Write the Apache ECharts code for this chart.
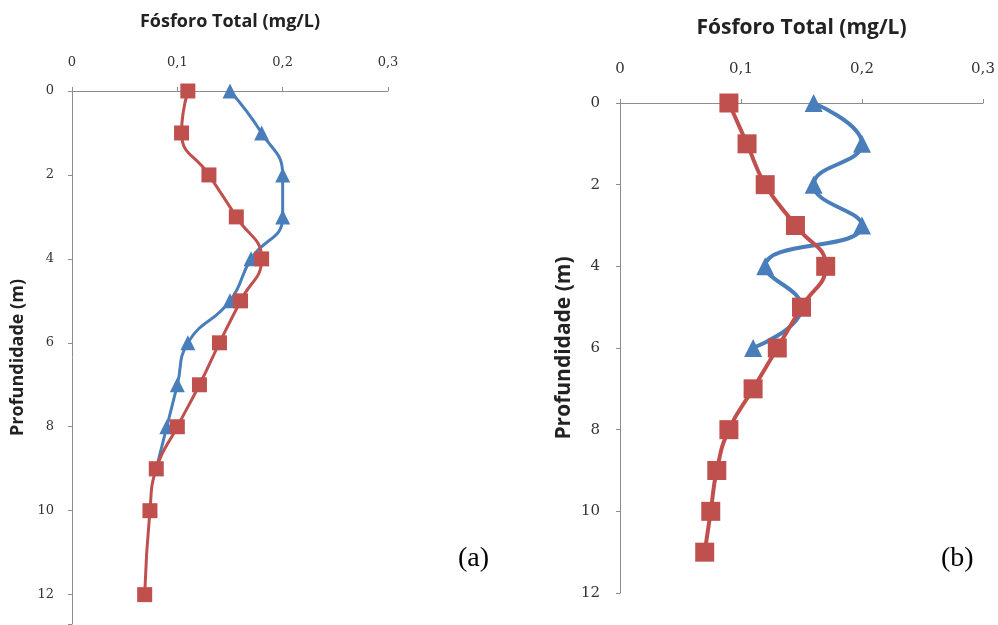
<!DOCTYPE html>
<html><head><meta charset="utf-8">
<script src="https://cdn.jsdelivr.net/npm/echarts@6/dist/echarts.min.js"></script>
<style>html,body{margin:0;padding:0;background:#fff}#c{width:998px;height:625px}</style>
</head><body><div id="c"></div>
<script>
// Panel (a)
var depthRedA = [0, 1, 2, 3, 4, 5, 6, 7, 8, 9, 10, 12];
var redA = [0.110, 0.104, 0.130, 0.156, 0.180, 0.160, 0.140, 0.121, 0.100, 0.080, 0.074, 0.069];
var depthBlueA = [0, 1, 2, 3, 4, 5, 6, 7, 8, 9];
var blueA = [0.150, 0.180, 0.200, 0.200, 0.170, 0.150, 0.110, 0.100, 0.090, 0.080];
// Panel (b)
var depthRedB = [0, 1, 2, 3, 4, 5, 6, 7, 8, 9, 10, 11];
var redB = [0.090, 0.105, 0.120, 0.145, 0.170, 0.150, 0.130, 0.110, 0.090, 0.080, 0.075, 0.070];
var depthBlueB = [0, 1, 2, 3, 4, 5, 6];
var blueB = [0.160, 0.200, 0.160, 0.200, 0.120, 0.150, 0.110];
var xTicks = ['0', '0,1', '0,2', '0,3'];
var xTitle = 'Fósforo Total (mg/L)';
var yTitle = 'Profundidade (m)';
var panelLabels = ['(a)', '(b)'];

function pairs(xs, ys) { return xs.map(function (v, i) { return [v, ys[i]]; }); }

var RED = '#c0504d', BLUE = '#4a7ebb', AX = '#8c8c8c';
function xAx(idx, nameGap, labelMargin, nameSize, labSize) {
  return {
    type: 'value', gridIndex: idx, position: 'top', min: 0, max: 0.3, interval: 0.1,
    name: xTitle, nameLocation: 'middle', nameGap: nameGap,
    nameTextStyle: { fontFamily: 'Open Sans', fontWeight: 'bold', fontSize: nameSize, color: '#222' },
    axisLine: { show: true, lineStyle: { color: AX, width: 1 } },
    axisTick: { show: true, length: 4, lineStyle: { color: AX } },
    splitLine: { show: false },
    axisLabel: { margin: labelMargin, fontFamily: 'DejaVu Serif', fontSize: labSize, color: '#333',
      formatter: function (v) { return xTicks[Math.round(v * 10)]; } }
  };
}
function yAx(idx, max, nameGap, labelMargin, nameSize, labSize) {
  return {
    type: 'value', gridIndex: idx, inverse: true, min: 0, max: max, interval: 2,
    name: yTitle, nameLocation: 'middle', nameGap: nameGap, nameRotate: 90,
    nameTextStyle: { fontFamily: 'Open Sans', fontWeight: 'bold', fontSize: nameSize, color: '#222' },
    axisLine: { show: true, onZero: false, lineStyle: { color: AX, width: 1 } },
    axisTick: { show: true, length: 4, lineStyle: { color: AX } },
    splitLine: { show: false },
    axisLabel: { margin: labelMargin, fontFamily: 'DejaVu Serif', fontSize: labSize, color: '#333',
      formatter: function (v) { return (Math.abs(v - Math.round(v)) < 1e-6 && Math.round(v) % 2 === 0) ? String(Math.round(v)) : ''; } }
  };
}
function ser(idx, data, color, symbol, size, w, z) {
  return {
    type: 'line', xAxisIndex: idx, yAxisIndex: idx, data: data, smooth: 0.5,
    symbol: symbol, symbolSize: size, showSymbol: true, z: z,
    lineStyle: { color: color, width: w }, itemStyle: { color: color, opacity: 1 },
    animation: false
  };
}
var chart = echarts.init(document.getElementById('c'));
chart.setOption({
  animation: false,
  grid: [
    { left: 72, top: 91, width: 316, height: 533 },
    { left: 620, top: 103, width: 363, height: 490 }
  ],
  xAxis: [xAx(0, 60, 22, 18, 13), xAx(1, 64, 26, 21, 15)],
  yAxis: [yAx(0, 12.7, 45, 18, 18, 13), yAx(1, 12, 45, 20, 21, 15)],
  series: [
    ser(0, pairs(blueA, depthBlueA), BLUE, 'triangle', 15, 3, 2),
    ser(0, pairs(redA, depthRedA), RED, 'rect', 15, 3, 3),
    ser(1, pairs(blueB, depthBlueB), BLUE, 'triangle', 18, 4, 2),
    ser(1, pairs(redB, depthRedB), RED, 'rect', 19, 4, 3)
  ],
  graphic: [
    { type: 'text', left: 458, top: 545, style: { text: panelLabels[0], font: '28px "Liberation Serif"', fill: '#000' } },
    { type: 'text', left: 941, top: 545, style: { text: panelLabels[1], font: '28px "Liberation Serif"', fill: '#000' } }
  ]
});
</script></body></html>
